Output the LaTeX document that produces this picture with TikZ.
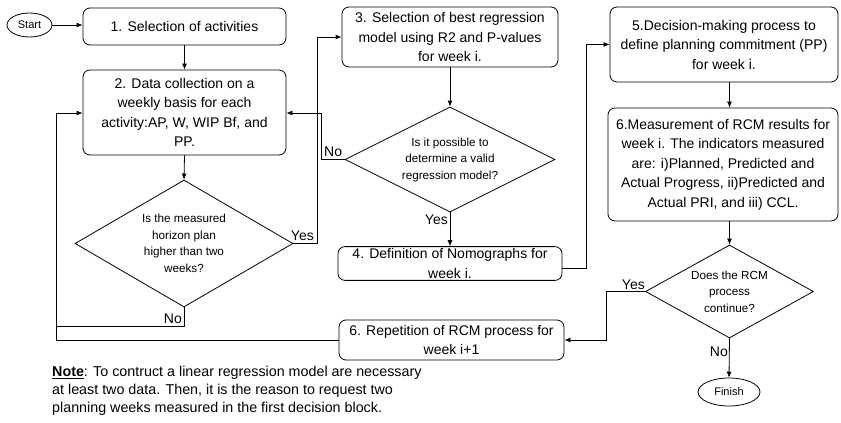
\documentclass[tikz,border=0pt]{standalone}
\usepackage{fontspec}
\setmainfont{Liberation Sans}
\usetikzlibrary{arrows.meta,shapes.geometric,calc}
\tikzset{
  box/.style={draw, rounded corners=7pt, line width=0.8pt, align=center, inner sep=2pt,
    font=\fontsize{14}{19.5}\selectfont},
  dia/.style={draw, diamond, line width=0.8pt, align=center, inner sep=0pt, aspect=1.7,
    font=\fontsize{11.7}{16.5}\selectfont},
  term/.style={draw, ellipse, line width=0.8pt, inner sep=0pt, font=\fontsize{11}{13}\selectfont},
  lbl/.style={inner sep=1pt, font=\fontsize{14}{16}\selectfont},
  conn/.style={line width=0.8pt},
  arr/.style={line width=0.8pt, -{Latex[length=6pt,width=5pt]}}
}
\begin{document}
\begin{tikzpicture}[x=1pt,y=-1pt]
\useasboundingbox (0,0) rectangle (841,423);
% terminals
\node[term, minimum width=45, minimum height=24] (start) at (29.5,25) {Start};
\node[term, minimum width=62, minimum height=28] (finish) at (729,392) {Finish};
% boxes
\node[box, minimum width=203, minimum height=37] (b1) at (184.5,26.5) {1. Selection of activities};
\node[box, minimum width=203, minimum height=85] (b2) at (184.5,112.5) {2. Data collection on a\\weekly basis for each\\activity:AP, W, WIP Bf, and\\PP.};
\node[box, minimum width=216, minimum height=60] (b3) at (450,37) {3. Selection of best regression\\model using R2 and P-values\\for week i.};
\node[box, minimum width=224, minimum height=33] (b4) at (450,263.5) {4. Definition of Nomographs for\\week i.};
\node[box, minimum width=228, minimum height=75] (b5) at (724,44.5) {5.Decision-making process to\\define planning commitment (PP)\\for week i.};
\node[box, minimum width=230, minimum height=113] (b6m) at (723,164.5) {6.Measurement of RCM results for\\week i. The indicators measured\\are: i)Planned, Predicted and\\Actual Progress, ii)Predicted and\\Actual PRI, and iii) CCL.};
\node[box, minimum width=225, minimum height=40] (b6r) at (451.5,340) {6. Repetition of RCM process for\\week i+1};
% decisions
\node[dia, minimum width=218, minimum height=127] (d1) at (184,243.5) {Is the measured\\horizon plan\\higher than two\\weeks?};
\node[dia, minimum width=210, minimum height=105] (d2) at (450,159.5) {Is it possible to\\determine a valid\\regression model?};
\node[dia, minimum width=168, minimum height=93] (d3) at (729.5,291.5) {Does the RCM\\process\\continue?};
% note
\node[anchor=north west, inner sep=0pt, align=left, font=\fontsize{14.3}{18}\selectfont] (note) at (52,366)
  {\underline{\textbf{Note}}: To contruct a linear regression model are necessary\\at least two data. Then, it is the reason to request two\\planning weeks measured in the first decision block.};
% connectors
\coordinate (lx) at (56,113);
\draw[arr] (start.east) -- (start.east -| b1.west);
\draw[arr] (b1.south) -- (b2.north);
\draw[arr] (b2.south) -- (d1.north);
\draw[arr] (d1.east) -- ++(24,0) |- (b3.west);
\draw[arr] (d1.south) -- ++(0,19) -| (lx) -- (lx -| b2.west);
\draw[conn] (b6r.west) -| (lx);
\draw[arr] (b3.south) -- (d2.north);
\draw[arr] (d2.west) -- ++(-23,0) |- (b2.east |- lx);
\draw[arr] (d2.south) -- (b4.north);
\coordinate (b4o) at ($(b4.east)+(0,4.5)$);
\draw[arr] (b4o) -- ++(24,0) |- (b5.west);
\draw[arr] (b5.south -| d3.north) -- (b6m.north -| d3.north);
\draw[arr] (b6m.south -| d3.north) -- (d3.north);
\draw[arr] (d3.west) -- ++(-39,0) |- (b6r.east);
\draw[arr] (d3.south) -- (finish.north);
% labels
\node[lbl, anchor=south east] (yes1) at (315,242) {Yes};
\node[lbl, anchor=south east] (no1) at (183,325) {No};
\node[lbl, anchor=south west] (no2) at (323,158) {No};
\node[lbl, anchor=south east] (yes2) at (449,226) {Yes};
\node[lbl, anchor=south east] (yes3) at (646,291) {Yes};
\node[lbl, anchor=south east] (no3) at (729,358) {No};
\end{tikzpicture}
\end{document}
